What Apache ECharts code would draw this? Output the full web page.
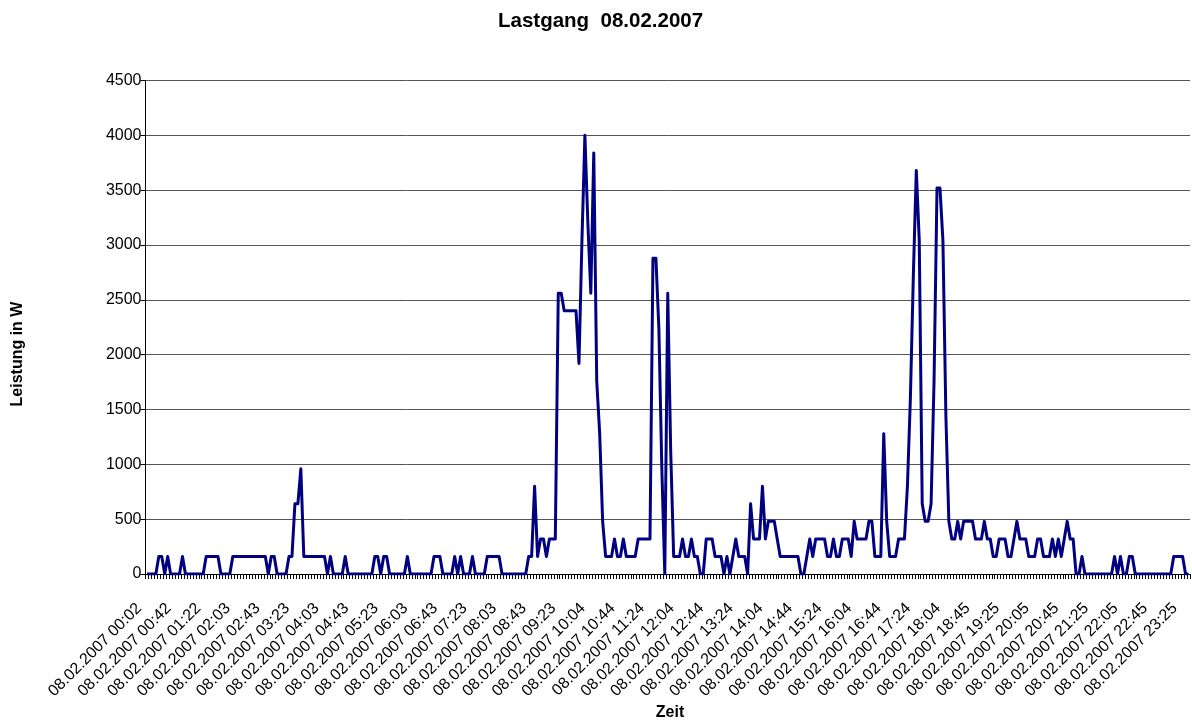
<!DOCTYPE html>
<html>
<head>
<meta charset="utf-8">
<script src="https://cdn.jsdelivr.net/npm/echarts@6/dist/echarts.min.js"></script>
<style>
html,body{margin:0;padding:0;background:#fff;}
#chart{width:1192px;height:722px;}
</style>
</head>
<body>
<div id="chart"></div>
<script>
// Tick labels shown on the category axis (every 10th sample)
const tickLabels = [
  '08.02.2007 00:02','08.02.2007 00:42','08.02.2007 01:22','08.02.2007 02:03',
  '08.02.2007 02:43','08.02.2007 03:23','08.02.2007 04:03','08.02.2007 04:43',
  '08.02.2007 05:23','08.02.2007 06:03','08.02.2007 06:43','08.02.2007 07:23',
  '08.02.2007 08:03','08.02.2007 08:43','08.02.2007 09:23','08.02.2007 10:04',
  '08.02.2007 10:44','08.02.2007 11:24','08.02.2007 12:04','08.02.2007 12:44',
  '08.02.2007 13:24','08.02.2007 14:04','08.02.2007 14:44','08.02.2007 15:24',
  '08.02.2007 16:04','08.02.2007 16:44','08.02.2007 17:24','08.02.2007 18:04',
  '08.02.2007 18:45','08.02.2007 19:25','08.02.2007 20:05','08.02.2007 20:45',
  '08.02.2007 21:25','08.02.2007 22:05','08.02.2007 22:45','08.02.2007 23:25'
];

// Leistung in W, one value per sample
const leistung = [
  0,0,0,0,160,160,0,160,0,0,0,0,160,0,0,0,0,0,0,0,
  160,160,160,160,160,0,0,0,0,160,160,160,160,160,160,160,160,160,160,
  160,160,0,160,160,0,0,0,0,160,160,640,640,960,160,160,160,160,160,160,
  160,160,0,160,0,0,0,0,160,0,0,0,0,0,0,0,0,0,160,160,
  0,160,160,0,0,0,0,0,0,160,0,0,0,0,0,0,0,0,160,
  160,160,0,0,0,0,160,0,160,0,0,0,160,0,0,0,0,160,160,160,
  160,160,0,0,0,0,0,0,0,0,0,160,160,800,160,320,320,160,320,
  320,320,2560,2560,2400,2400,2400,2400,2400,1920,3040,4000,3200,2560,3840,1760,1280,480,160,160,
  160,320,160,160,320,160,160,160,160,320,320,320,320,320,2880,2880,2240,960,0,2560,
  1120,160,160,160,320,160,160,320,160,160,0,0,320,320,320,160,160,160,0,
  160,0,160,320,160,160,160,0,640,320,320,320,800,320,480,480,480,320,160,160,
  160,160,160,160,160,0,0,160,320,160,320,320,320,320,160,160,320,160,160,320,
  320,320,160,480,320,320,320,320,480,480,160,160,160,1280,480,160,160,160,320,
  320,320,800,1600,2720,3680,3040,640,480,480,640,1760,3520,3520,3040,1440,480,320,320,480,
  320,480,480,480,480,320,320,320,480,320,320,160,160,320,320,320,160,160,320,
  480,320,320,320,160,160,160,320,320,160,160,160,320,160,320,160,320,480,320,320,
  0,0,160,0,0,0,0,0,0,0,0,0,0,160,0,160,0,0,160,160,
  0,0,0,0,0,0,0,0,0,0,0,0,0,160,160,160,160,0,0
];

const titleText = 'Lastgang  08.02.2007';
const yName = 'Leistung in W';
const xName = 'Zeit';

function pad(n){ return (n < 10 ? '0' : '') + n; }
// category names: labelled samples use the tick labels, samples in between get a 4-minute step name
const categories = leistung.map(function(_, i){
  const k = Math.min(Math.floor(i / 10), tickLabels.length - 1);
  const base = tickLabels[k];
  const off = i - k * 10;
  if (!off) return base;
  const parts = base.split(' ');
  const hm = parts[1].split(':').map(Number);
  const tot = hm[0] * 60 + hm[1] + 4 * off;
  return parts[0] + ' ' + pad(Math.floor(tot / 60) % 24) + ':' + pad(tot % 60);
});

const FONT = '"Liberation Sans", Arial, sans-serif';
const chart = echarts.init(document.getElementById('chart'), null, {renderer: 'canvas'});
chart.setOption({
  animation: false,
  backgroundColor: '#ffffff',
  title: {
    text: titleText,
    left: 493,
    top: 6,
    textStyle: {fontFamily: FONT, fontSize: 20.5, fontWeight: 'bold', color: '#000'}
  },
  grid: {left: 145.5, right: 2, top: 80.5, bottom: 148, containLabel: false},
  xAxis: {
    type: 'category',
    data: categories,
    boundaryGap: true,
    axisLine: {show: true, lineStyle: {color: '#000', width: 1}},
    axisTick: {show: true, interval: 0, length: 5, lineStyle: {color: '#000', width: 1}},
    axisLabel: {interval: 9, rotate: 45, margin: 24, padding: [0, 11, 0, 0],
                fontFamily: FONT, fontSize: 16, color: '#000'},
    splitLine: {show: false}
  },
  yAxis: {
    type: 'value',
    min: 0, max: 4500, interval: 500,
    axisLine: {show: true, lineStyle: {color: '#000', width: 1}},
    axisTick: {show: true, length: 5, lineStyle: {color: '#000', width: 1}},
    axisLabel: {margin: 4, fontFamily: FONT, fontSize: 16, color: '#000',
                formatter: function(v){ return String(v); }},
    splitLine: {show: true, lineStyle: {color: '#555555', width: 1}}
  },
  series: [{
    type: 'line',
    data: leistung,
    symbol: 'none',
    lineStyle: {color: '#000080', width: 3, join: 'round'},
    itemStyle: {color: '#000080'}
  }],
  graphic: [
    {type: 'text', x: 18, y: 354, rotation: Math.PI / 2,
     style: {text: yName, font: 'bold 16px ' + FONT, fill: '#000', textAlign: 'center', textVerticalAlign: 'middle'}},
    {type: 'text', x: 670, y: 713,
     style: {text: xName, font: 'bold 16px ' + FONT, fill: '#000', textAlign: 'center', textVerticalAlign: 'middle'}}
  ]
});
</script>
</body>
</html>
